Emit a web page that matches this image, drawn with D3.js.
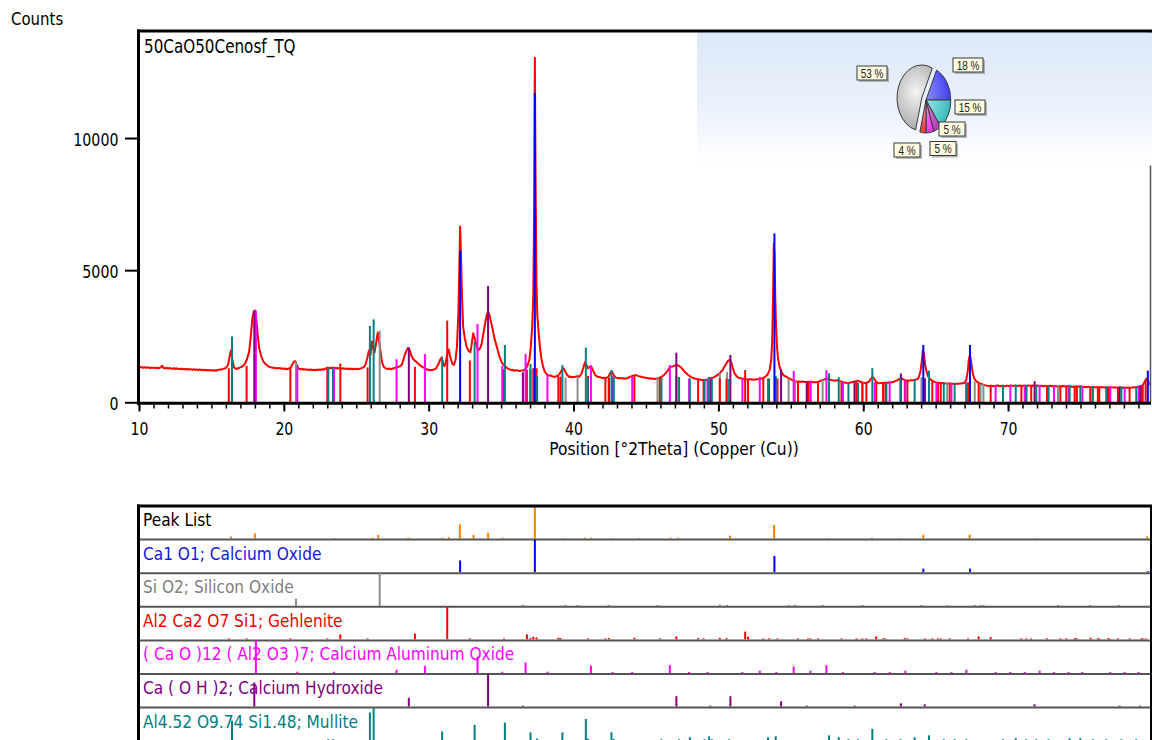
<!DOCTYPE html>
<html>
<head>
<meta charset="utf-8">
<script src="https://cdn.jsdelivr.net/npm/d3@7"></script>
<style>
  html, body { margin: 0; padding: 0; background: #fff; }
  svg { display: block; }
</style>
</head>
<body>
<svg id="chart" width="1152" height="740"></svg>
<script>
// ---------- Measured scan: [2Theta, counts] ----------
const scan = [
  [10.0,1350],[10.1,1320],[10.2,1335],[10.3,1305],[10.4,1330],[10.5,1300],[10.6,1325],[10.7,1310],[10.8,1290],[10.9,1320],
  [11.0,1295],[11.1,1315],[11.2,1285],[11.3,1310],[11.4,1290],[11.5,1320],[11.6,1380],[11.7,1300],[11.8,1285],[11.9,1305],
  [12.0,1275],[12.1,1300],[12.2,1280],[12.3,1265],[12.4,1290],[12.5,1260],[12.6,1285],[12.7,1255],[12.8,1275],[12.9,1250],
  [13.0,1270],[13.1,1245],[13.2,1265],[13.3,1240],[13.4,1262],[13.5,1238],[13.6,1255],[13.7,1230],[13.8,1250],[13.9,1225],
  [14.0,1245],[14.1,1220],[14.2,1242],[14.3,1215],[14.4,1235],[14.5,1210],[14.6,1232],[14.7,1205],[14.8,1225],[14.9,1200],
  [15.0,1222],[15.1,1198],[15.2,1215],[15.3,1195],[15.4,1220],[15.5,1230],[15.6,1245],[15.7,1235],[15.8,1265],[15.9,1280],
  [16.0,1300],[16.15,1420],[16.28,1800],[16.35,1960],[16.45,1600],[16.55,1330],[16.7,1260],[16.85,1290],[17.0,1320],[17.15,1360],
  [17.3,1450],[17.45,1620],[17.6,1900],[17.72,2500],[17.82,3150],[17.92,3430],[18.02,3470],[18.1,3150],[18.2,2500],[18.3,2050],
  [18.4,1830],[18.5,1650],[18.6,1530],[18.75,1440],[18.9,1370],[19.0,1345],[19.1,1330],[19.2,1305],[19.3,1315],[19.4,1285],
  [19.5,1300],[19.6,1275],[19.7,1300],[19.8,1270],[19.9,1285],[20.0,1260],[20.1,1280],[20.2,1250],[20.3,1270],[20.4,1290],
  [20.5,1330],[20.6,1450],[20.7,1540],[20.78,1560],[20.85,1470],[20.95,1330],[21.05,1270],[21.15,1250],[21.25,1265],[21.35,1235],
  [21.45,1255],[21.55,1225],[21.65,1245],[21.75,1220],[21.85,1240],[21.95,1215],[22.05,1235],[22.15,1212],[22.25,1238],[22.35,1220],
  [22.45,1242],[22.55,1225],[22.65,1250],[22.75,1240],[22.85,1270],[22.95,1290],[23.05,1315],[23.15,1285],[23.25,1305],[23.35,1290],
  [23.45,1320],[23.55,1285],[23.65,1300],[23.75,1275],[23.85,1300],[23.95,1270],[24.05,1288],[24.15,1262],[24.25,1285],[24.35,1258],
  [24.45,1280],[24.55,1252],[24.65,1275],[24.75,1250],[24.85,1270],[24.95,1248],[25.05,1268],[25.15,1255],[25.25,1275],[25.35,1290],
  [25.45,1310],[25.55,1350],[25.65,1450],
  [25.75,1650],[25.88,1970],[25.98,1780],[26.08,2300],[26.18,2050],[26.26,1880],[26.36,2200],[26.48,2640],[26.58,2300],[26.68,1900],
  [26.78,1520],[26.9,1340],[27.05,1280],[27.2,1260],[27.3,1280],[27.4,1250],[27.5,1270],[27.6,1290],[27.7,1305],[27.8,1320],
  [28.0,1360],[28.15,1420],[28.3,1700],
  [28.42,1900],[28.55,2050],[28.65,2040],[28.78,1800],[28.92,1640],[29.1,1550],[29.3,1450],[29.5,1360],[29.7,1300],[29.9,1240],
  [30.1,1210],[30.3,1230],[30.5,1280],[30.65,1420],[30.78,1600],[30.9,1700],[31.0,1480],[31.08,1370],[31.18,1500],[31.3,1900],
  [31.38,2000],[31.46,1780],[31.55,1600],[31.65,1440],[31.75,1420],[31.85,1600],[31.95,2100],[32.05,3400],[32.12,5200],[32.17,6650],
  [32.23,5600],[32.3,4000],[32.38,2850],[32.5,2400],[32.62,2100],[32.75,1950],[32.88,1900],[32.97,2200],[33.07,2610],[33.16,2450],
  [33.26,2250],[33.36,2050],[33.44,1970],[33.55,2050],[33.65,2200],[33.78,2600],[33.9,3000],[34.02,3320],[34.1,3430],[34.2,3300],
  [34.3,3050],[34.42,2750],[34.55,2400],[34.68,2150],[34.8,1900],[34.92,1680],[35.05,1500],[35.2,1400],[35.35,1330],[35.5,1260],
  [35.6,1245],[35.7,1220],[35.8,1235],[35.9,1190],[36.0,1215],[36.1,1210],[36.2,1190],[36.3,1180],[36.4,1205],[36.5,1200],
  [36.65,1250],[36.8,1360],[36.95,1600],[37.05,2100],[37.15,2900],
  [37.22,4000],[37.28,7200],[37.33,13040],[37.38,8500],[37.44,4500],[37.5,3300],[37.58,2700],[37.68,2100],[37.78,1650],[37.9,1350],
  [38.0,1180],[38.15,1060],[38.3,1010],[38.4,1020],[38.5,990],[38.6,975],[38.7,960],[38.8,985],[38.9,1000],[39.05,1080],
  [39.2,1230],[39.3,1290],[39.42,1180],
  [39.55,1040],[39.7,960],[39.8,975],[39.9,940],[40.0,955],[40.1,960],[40.25,990],[40.4,970],[40.55,1080],[40.7,1350],[40.8,1520],[40.9,1400],
  [41.0,1290],[41.1,1330],[41.22,1360],[41.35,1200],[41.5,1030],[41.65,970],[41.8,960],[41.9,935],[42.0,920],[42.1,930],[42.2,910],[42.3,935],[42.4,960],
  [42.55,1120],[42.65,1160],[42.75,1050],[42.9,940],[43.0,925],[43.1,910],[43.2,925],[43.3,900],[43.4,915],[43.5,890],[43.6,905],[43.7,910],[43.8,940],[43.9,960],[44.1,1010],
  [44.3,1030],[44.5,990],[44.6,975],[44.7,960],[44.8,950],[44.9,940],[45.0,925],[45.1,920],[45.2,900],[45.3,910],[45.4,890],[45.5,900],[45.6,885],[45.7,895],[45.8,905],[45.9,920],[46.1,970],
  [46.3,1060],[46.5,1200],[46.65,1330],[46.8,1350],[46.95,1380],[47.1,1410],[47.25,1390],[47.4,1330],[47.55,1240],[47.7,1140],
  [47.9,1040],[48.1,960],[48.2,935],[48.3,910],[48.4,895],[48.5,880],[48.6,870],[48.7,860],[48.8,845],[48.9,850],[49.0,835],[49.1,840],[49.2,860],[49.3,870],[49.4,880],[49.5,900],[49.7,950],
  [49.9,1020],[50.1,1100],[50.3,1230],[50.5,1420],[50.65,1560],[50.78,1610],[50.9,1500],[51.0,1300],[51.1,1120],[51.25,990],
  [51.4,930],[51.5,915],[51.6,900],[51.7,890],[51.8,880],[51.9,870],[52.0,860],[52.1,875],[52.2,870],[52.3,860],[52.4,850],[52.5,865],[52.6,860],[52.7,870],[52.8,880],[53.0,900],[53.2,950],
  [53.4,1050],[53.55,1250],[53.65,1600],[53.72,2400],[53.78,4200],[53.83,6000],[53.88,5600],[53.93,4000],[53.98,2900],[54.05,2100],
  [54.12,1650],[54.22,1350],[54.35,1150],[54.5,1020],[54.7,960],[54.9,900],[55.1,840],[55.3,800],[55.4,790],[55.5,780],[55.6,785],[55.7,770],
  [55.8,790],[55.9,780],[56.0,765],[56.1,770],[56.2,780],[56.3,760],[56.4,775],[56.5,770],[56.6,755],[56.7,760],[56.8,770],[56.9,780],[57.1,820],[57.3,860],[57.45,900],[57.6,880],
  [57.8,840],[58.0,820],[58.2,830],[58.4,800],[58.6,760],[58.8,740],[59.0,730],[59.2,760],[59.4,790],[59.6,820],
  [59.8,780],[60.0,740],[60.2,730],[60.4,780],[60.55,900],[60.65,960],[60.75,900],[60.9,770],[61.0,735],[61.1,720],[61.2,735],[61.3,720],
  [61.4,738],[61.5,730],[61.6,745],[61.7,740],[61.8,755],[61.9,750],[62.1,780],[62.3,820],[62.5,880],[62.65,900],[62.8,860],[63.0,820],[63.1,830],[63.2,820],
  [63.3,835],[63.4,830],[63.5,845],[63.6,850],[63.8,900],[63.95,1150],[64.05,1600],[64.12,1960],[64.2,1800],[64.28,1400],[64.38,1150],[64.5,960],
  [64.65,860],[64.8,800],[65.0,760],[65.1,750],[65.2,740],[65.3,728],[65.4,720],[65.5,730],[65.6,720],[65.7,712],[65.8,710],[65.9,715],[66.0,700],[66.1,708],[66.2,700],[66.3,695],[66.4,690],
  [66.5,700],[66.6,700],[66.7,715],[66.8,710],[67.0,740],[67.12,850],[67.22,1200],[67.3,1650],[67.37,1790],[67.45,1550],[67.55,1150],[67.65,920],
  [67.8,800],[68.0,720],[68.1,710],[68.2,690],[68.3,670],[68.4,650],[68.55,625],[68.7,615],[68.85,630],[69.0,605],[69.15,625],
  [69.3,635],[69.45,610],[69.6,628],[69.75,608],[69.9,630],[70.05,615],[70.2,640],[70.35,618],[70.5,632],[70.65,612],
  [70.8,638],[70.95,620],[71.1,632],[71.25,615],[71.4,640],[71.55,622],[71.7,635],[71.85,615],[72.0,640],[72.15,620],
  [72.3,628],[72.45,608],[72.6,622],[72.75,605],[72.9,628],[73.05,610],[73.2,618],[73.35,598],[73.5,612],[73.65,596],
  [73.8,615],[73.95,595],[74.1,605],[74.25,585],[74.4,600],[74.55,582],[74.7,605],[74.85,585],[75.0,595],[75.15,575],
  [75.3,590],[75.45,572],[75.6,588],[75.75,568],[75.9,580],[76.05,562],[76.2,582],[76.35,565],[76.5,575],[76.65,556],
  [76.8,568],[76.95,552],[77.1,575],[77.25,556],[77.4,565],[77.55,548],[77.7,560],[77.85,545],[78.0,562],[78.15,548],
  [78.3,558],[78.45,545],[78.6,565],[78.75,560],[78.9,580],[79.05,595],[79.2,615],[79.3,650],[79.45,800],[79.55,900],
  [79.65,820],[79.75,700],[79.8,680]
];

// ---------- Reference lines per phase: [2Theta, stick top in counts, relative intensity %] ----------
const calciumOxide = [
  [32.17,5730,36],[37.33,11700,100],[53.87,6390,50],[64.15,2170,11],[67.37,2170,11],[79.65,1200,3]
];
const siliconOxide = [
  [20.84,1560,22],[26.62,2710,100],[36.52,1200,3],[39.45,940,3],[40.28,970,3],[42.42,920,3],[45.8,910,3],
  [50.1,1100,4],[50.6,1150,3],[54.85,900,3],[55.3,810,3],[57.2,840,3],[59.95,760,3],[64.02,950,3],
  [65.8,730,2],[67.7,800,3],[68.1,700,3],[68.3,690,3],[73.45,630,3],[75.65,600,3],[77.65,580,3]
];
const gehlenite = [
  [16.2,1290,3],[17.43,1380,3],[20.45,1300,3],[23.0,1320,3],[23.9,1470,15],[25.78,1320,3],[29.05,1340,18],
  [31.28,3090,100],[32.84,1580,3],[35.2,1250,3],[36.78,1240,15],[37.02,1250,4],[37.22,1290,8],[37.45,1290,6],
  [38.95,980,5],[39.1,970,4],[41.0,1000,3],[42.2,920,3],[42.45,920,4],[44.2,1020,5],[45.96,910,3],
  [47.1,1000,9],[48.6,880,4],[48.98,860,3],[50.1,900,5],[50.56,900,4],[51.85,1220,24],[52.05,870,8],
  [53.1,900,3],[53.5,900,3],[54.08,900,3],[55.5,800,3],[56.19,780,3],[56.36,780,3],[56.88,780,3],
  [58.5,760,3],[59.53,800,3],[59.94,760,3],[60.22,760,3],[60.9,780,9],[61.37,730,3],[61.53,740,3],
  [62.87,830,4],[63.05,820,3],[64.25,900,3],[64.77,820,3],[65.16,760,3],[65.35,750,3],[65.97,720,3],
  [67.24,760,3],[67.97,720,9],[68.8,640,7],[70.92,640,3],[71.26,650,3],[71.6,650,3],[72.69,640,3],
  [73.61,630,3],[74.02,630,3],[74.6,620,4],[74.75,620,3],[75.7,600,5],[76.2,600,3],[76.3,600,3],
  [76.9,590,3],[77.0,590,3],[77.59,580,3],[78.39,570,3],[79.2,620,3],[79.3,640,3],[79.5,800,3]
];
const calciumAluminumOxide = [
  [18.07,3470,100],[20.93,1340,4],[23.46,1310,4],[27.78,1630,10],[29.74,1830,22],[33.37,2960,50],
  [35.08,1380,4],[36.69,1830,32],[38.2,1030,4],[41.2,1410,23],[42.7,1000,3],[44.05,960,3],[46.65,1410,24],
  [47.98,900,3],[49.25,880,3],[51.66,900,3],[52.86,960,7],[54.0,900,3],[55.2,1190,20],[56.36,820,7],
  [57.46,1220,24],[58.6,780,3],[60.79,760,3],[61.83,780,3],[62.91,830,7],[65.05,760,3],[66.09,720,3],
  [67.12,760,10],[69.14,640,3],[70.16,650,3],[71.15,650,3],[72.18,660,7],[73.17,630,3],[74.18,620,3],
  [75.13,610,3],[77.06,600,3],[78.05,580,3],[79.01,600,3]
];
const calciumHydroxide = [
  [17.96,3470,74],[28.63,2070,27],[34.1,4400,100],[36.5,1120,3],[47.1,1880,32],[49.45,930,3],[50.83,1790,32],
  [54.33,1260,16],[56.1,800,3],[59.4,800,3],[62.6,1090,10],[64.25,900,7],[71.83,800,7],[77.7,600,3],[79.1,620,3]
];
const mullite = [
  [16.42,2490,60],[23.07,1280,3],[23.39,1310,3],[25.94,2890,85],[26.2,3140,100],[30.93,1700,27],[33.17,2300,47],
  [35.26,2170,54],[37.03,1450,24],[37.49,1000,5],[39.23,1410,24],[40.85,2070,65],[40.99,930,5],[42.62,1220,24],
  [42.78,930,4],[46.07,930,3],[47.29,960,3],[48.03,900,9],[49.05,850,3],[49.36,960,12],[49.55,880,3],
  [50.74,880,3],[53.43,900,9],[53.96,1000,12],[57.64,1100,15],[58.31,950,9],[58.98,730,3],[59.64,730,3],
  [60.63,1290,35],[61.6,740,3],[62.57,900,3],[63.55,870,9],[64.54,1200,15],[65.56,740,3],[66.31,740,3],
  [67.12,720,3],[69.65,660,3],[70.53,670,6],[71.26,660,3],[71.95,660,3],[72.8,640,3],[74.25,660,6],
  [74.99,650,6],[75.86,620,3],[76.78,610,3],[77.82,600,3],[78.85,600,3]
];

// ---------- Peak list: [2Theta, relative height %] ----------
const peakList = [
  [16.35,6],[18.0,16],[23.46,2],[26.13,3],[26.52,11],[28.6,3],[30.95,3],[31.4,4],[32.15,44],[33.1,11],
  [34.1,18],[35.1,3],[37.33,100],[39.3,2],[40.8,3],[41.2,3],[42.6,2],[44.5,2],[46.7,3],[47.2,3],
  [50.8,9],[53.85,42],[57.6,2],[60.6,3],[62.5,2],[64.15,12],[67.35,12],[71.9,2],[79.6,7]
];

// ---------- Phase names and semi-quantitative shares ----------
const panelTitles = [
  "Peak List",
  "Ca1 O1; Calcium Oxide",
  "Si O2; Silicon Oxide",
  "Al2 Ca2 O7 Si1; Gehlenite",
  "( Ca O )12 ( Al2 O3 )7; Calcium Aluminum Oxide",
  "Ca ( O H )2; Calcium Hydroxide",
  "Al4.52 O9.74 Si1.48; Mullite"
];
// order around the pie: CaO, mullite, Ca(OH)2, calcium aluminate, gehlenite, SiO2
const phaseShares = [18, 15, 5, 5, 4, 53];

const yTicks = [0, 5000, 10000];
const xTicks = [10, 20, 30, 40, 50, 60, 70];

// ---------- Styling ----------
const FONT = '"DejaVu Sans", sans-serif';
const phaseColor = {
  peaks: "#ff8000",
  cao: "#0000ff",
  sio2: "#8c8c8c",
  geh: "#ff0000",
  c12a7: "#ff00ff",
  caoh: "#800080",
  mul: "#008080"
};
const titleColor = ["#000000", "#1414e6", "#808080", "#ee0000", "#ff00ff", "#800080", "#008080"];
const sliceStyle = [
  { light: "#a0a0ff", base: "#3c3cf0" },
  { light: "#b4f4f4", base: "#3cbcbc" },
  { light: "#e7a0e7", base: "#b03cb0" },
  { light: "#ffb0ff", base: "#ee2cee" },
  { light: "#ffb0b0", base: "#ee3030" },
  { light: "#f4f4f4", base: "#a4a4a4" }
];
const sliceLabelOffset = [[42, -35], [44, 7], [26, 29], [17, 48.5], [-19, 50], [-54, -27]];

const svg = d3.select("#chart");

// ---------- Scales ----------
const x = d3.scaleLinear().domain([10, 79.8]).range([139, 1150]);
const y = d3.scaleLinear().domain([0, 14050]).range([402.3, 31]);

function sText(g, x0, y0, str, size, sx, fill, anchor) {
  return g.append("text")
    .attr("transform", `translate(${x0},${y0}) scale(${sx},1)`)
    .attr("font-family", FONT)
    .attr("font-size", size)
    .attr("fill", fill)
    .attr("text-anchor", anchor || "start")
    .text(str);
}

const defs = svg.append("defs");
defs.append("clipPath").attr("id", "plotClip")
  .append("rect").attr("x", 139).attr("y", 31).attr("width", 1011).attr("height", 372);

// ---------- Main pattern ----------
const main = svg.append("g");

main.append("path")
  .datum(scan)
  .attr("clip-path", "url(#plotClip)")
  .attr("fill", "none")
  .attr("stroke", "#ff0000")
  .attr("stroke-width", 2)
  .attr("stroke-linejoin", "round")
  .attr("d", d3.line().x(d => x(d[0])).y(d => y(d[1])));

const mainPhases = [
  { key: "sio2", lines: siliconOxide },
  { key: "geh", lines: gehlenite },
  { key: "c12a7", lines: calciumAluminumOxide },
  { key: "caoh", lines: calciumHydroxide },
  { key: "mul", lines: mullite },
  { key: "cao", lines: calciumOxide }
];
const stickG = main.append("g").attr("clip-path", "url(#plotClip)");
mainPhases.forEach(p => {
  stickG.append("g").selectAll("line")
    .data(p.lines)
    .join("line")
    .attr("x1", d => x(d[0])).attr("x2", d => x(d[0]))
    .attr("y1", y(0)).attr("y2", d => y(d[1]))
    .attr("stroke", phaseColor[p.key])
    .attr("stroke-width", 2);
});

// right frame line
svg.append("line").attr("x1", 1150.5).attr("x2", 1150.5).attr("y1", 31).attr("y2", 403)
  .attr("stroke", "#555").attr("stroke-width", 1.5);

// ---------- Axes ----------
const gy = svg.append("g").attr("transform", "translate(137,0)")
  .call(d3.axisLeft(y).tickValues(yTicks).tickSize(12).tickFormat(d3.format("d")));
gy.select(".domain").remove();
gy.selectAll(".tick line").attr("stroke", "#000").attr("stroke-width", 2);
gy.selectAll(".tick text")
  .attr("x", 0).attr("dy", null)
  .attr("dominant-baseline", "central")
  .attr("font-family", FONT).attr("font-size", 18).attr("fill", "#000")
  .attr("transform", "translate(-18.5,1) scale(0.79,1)");

const gxMinor = svg.append("g").attr("transform", "translate(0,404.5)")
  .call(d3.axisBottom(x).tickValues(d3.range(10, 80, 1)).tickSize(4).tickFormat(""));
gxMinor.select(".domain").remove();
gxMinor.selectAll(".tick line").attr("stroke", "#000").attr("stroke-width", 1.5);

const gx = svg.append("g").attr("transform", "translate(0,404.5)")
  .call(d3.axisBottom(x).tickValues(xTicks).tickSize(7).tickFormat(d3.format("d")));
gx.select(".domain").remove();
gx.selectAll(".tick line").attr("stroke", "#000").attr("stroke-width", 2);
gx.selectAll(".tick text")
  .attr("y", 0).attr("dy", null)
  .attr("font-family", FONT).attr("font-size", 18).attr("fill", "#000")
  .attr("transform", "translate(0,30.5) scale(0.78,1)");

// thick frame
svg.append("line").attr("x1", 138.5).attr("x2", 138.5).attr("y1", 29.5).attr("y2", 404.8)
  .attr("stroke", "#000").attr("stroke-width", 3);
svg.append("line").attr("x1", 137).attr("x2", 1151).attr("y1", 403.3).attr("y2", 403.3)
  .attr("stroke", "#000").attr("stroke-width", 3);

// ---------- Pie inset ----------
const grad = defs.append("linearGradient").attr("id", "insetBg")
  .attr("x1", 0).attr("y1", 0).attr("x2", 0).attr("y2", 1);
grad.append("stop").attr("offset", "0%").attr("stop-color", "#dce8f8");
grad.append("stop").attr("offset", "55%").attr("stop-color", "#eaf1fb");
grad.append("stop").attr("offset", "100%").attr("stop-color", "#ffffff");
svg.append("rect").attr("x", 697).attr("y", 32.5).attr("width", 455).attr("height", 133)
  .attr("fill", "url(#insetBg)");

svg.append("line").attr("x1", 137).attr("x2", 1152).attr("y1", 31).attr("y2", 31)
  .attr("stroke", "#000").attr("stroke-width", 3);

sliceStyle.forEach((s, i) => {
  const rg = defs.append("radialGradient").attr("id", "slice" + i)
    .attr("gradientUnits", "userSpaceOnUse")
    .attr("cx", -8).attr("cy", -6).attr("r", 42);
  rg.append("stop").attr("offset", "0%").attr("stop-color", s.light);
  rg.append("stop").attr("offset", "100%").attr("stop-color", s.base);
});

const pieCx = 926, pieCy = 100, pieR = 33;
const pie = d3.pie().sort(null).value(d => d).startAngle(0.44).endAngle(0.44 + 2 * Math.PI);
const arcs = pie(phaseShares);
const arcGen = d3.arc().innerRadius(0).outerRadius(pieR);
const pieG = svg.append("g").attr("transform", `translate(${pieCx},${pieCy}) scale(0.75,1)`);
pieG.selectAll("path")
  .data(arcs)
  .join("path")
  .attr("d", arcGen)
  .attr("transform", (d, i) => {
    if (i !== arcs.length - 1) return null;
    const mid = (d.startAngle + d.endAngle) / 2;
    return `translate(${6 * Math.sin(mid)},${-6 * Math.cos(mid)})`;
  })
  .attr("fill", (d, i) => `url(#slice${i})`)
  .attr("stroke", "#3a3a3a")
  .attr("stroke-width", 1)
  .attr("vector-effect", "non-scaling-stroke");

const labG = svg.append("g");
arcs.forEach((d, i) => {
  const cx = pieCx + sliceLabelOffset[i][0];
  const cy = pieCy + sliceLabelOffset[i][1];
  const g = labG.append("g").attr("transform", `translate(${cx},${cy})`);
  const txt = `${d.data} %`;
  const w = txt.length > 3 ? 30 : 26;
  g.append("rect").attr("x", -w / 2 + 2).attr("y", -7 + 2).attr("width", w).attr("height", 14)
    .attr("fill", "#9a9a9a").attr("opacity", 0.7);
  g.append("rect").attr("x", -w / 2).attr("y", -7).attr("width", w).attr("height", 14)
    .attr("fill", "#fdfbe0").attr("stroke", "#3a3a3a").attr("stroke-width", 1);
  g.append("text")
    .attr("transform", "translate(0,4.5) scale(0.8,1)")
    .attr("text-anchor", "middle")
    .attr("font-family", '"Liberation Sans", Arial, sans-serif')
    .attr("font-size", 12.5)
    .attr("fill", "#222")
    .text(txt);
});

// ---------- Titles ----------
sText(svg, 11, 25, "Counts", 17, 0.88, "#000");
sText(svg, 144, 53, "50CaO50Cenosf_TQ", 20, 0.76, "#000");
sText(svg, 674, 455, "Position [°2Theta] (Copper (Cu))", 17, 0.91, "#000", "middle");

// ---------- Phase panels ----------
const panelTop = 506, panelH = 33.6;
const panelData = [
  { key: "peaks", lines: peakList.map(d => [d[0], d[1]]) },
  { key: "cao", lines: calciumOxide.map(d => [d[0], d[2]]) },
  { key: "sio2", lines: siliconOxide.map(d => [d[0], d[2]]) },
  { key: "geh", lines: gehlenite.map(d => [d[0], d[2]]) },
  { key: "c12a7", lines: calciumAluminumOxide.map(d => [d[0], d[2]]) },
  { key: "caoh", lines: calciumHydroxide.map(d => [d[0], d[2]]) },
  { key: "mul", lines: mullite.map(d => [d[0], d[2]]) }
];
const panels = svg.append("g");
panelData.forEach((p, i) => {
  const top = panelTop + i * panelH;
  const bottom = top + panelH - 1;
  const h = d3.scaleLinear().domain([0, 100]).range([bottom, top]);
  const g = panels.append("g");
  sText(g, 143, top + 20, panelTitles[i], 17.5, 0.88, titleColor[i]);
  g.selectAll("line")
    .data(p.lines)
    .join("line")
    .attr("x1", d => x(d[0])).attr("x2", d => x(d[0]))
    .attr("y1", bottom).attr("y2", d => h(d[1]))
    .attr("stroke", phaseColor[p.key])
    .attr("stroke-width", 2);
  if (i < panelData.length - 1) {
    g.append("line").attr("x1", 138).attr("x2", 1151).attr("y1", top + panelH).attr("y2", top + panelH)
      .attr("stroke", "#555").attr("stroke-width", 2);
  }
});
svg.append("line").attr("x1", 137).attr("x2", 1152).attr("y1", 506).attr("y2", 506)
  .attr("stroke", "#000").attr("stroke-width", 3);
svg.append("line").attr("x1", 138.5).attr("x2", 138.5).attr("y1", 504.5).attr("y2", 740)
  .attr("stroke", "#000").attr("stroke-width", 3);
svg.append("line").attr("x1", 1151).attr("x2", 1151).attr("y1", 505).attr("y2", 740)
  .attr("stroke", "#000").attr("stroke-width", 2);
</script>
</body>
</html>
